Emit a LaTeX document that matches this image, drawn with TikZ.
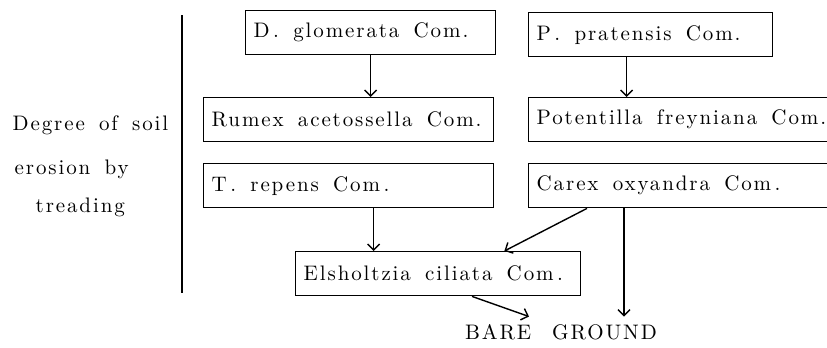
\documentclass[tikz,border=0pt]{standalone}
\usepackage{fontspec}
\setmainfont{lmroman10-regular.otf}[LetterSpace=9, WordSpace=1.6]
\usetikzlibrary{arrows.meta}

\begin{document}
\begin{tikzpicture}[
  x=0.5pt, y=-0.5pt,
  font=\fontsize{10.5}{12}\selectfont,
  line width=0.7pt,
  >={Straight Barb[length=3pt,width=6pt]},
  comm/.style={draw, rectangle, anchor=north west,
    inner xsep=4pt, inner ysep=0pt, minimum height=22pt,
    execute at begin node={\hbox to #1\bgroup},
    execute at end node={\hfil\egroup}},
  lbl/.style={anchor=base west, inner sep=0pt}
]
\useasboundingbox (0,0) rectangle (827,348);

% axis label on the left
\node[lbl] (deg1) at (12,130) {Degree of soil};
\node[lbl] (deg2) at (14,175) {erosion by};
\node[lbl] (deg3) at (35,213) {treading};
\draw (182,15) -- (182,293);

% communities
\node[comm=117pt] (dglo) at (245,10) {D\,. glomerata Com.};
\node[comm=114pt] (ppra) at (528,12) {P\,. pratensis Com.};
\node[comm=137pt] (rume) at (203,97) {Rumex acetossella Com.};
\node[comm=153pt] (pote) at (528,97) {Potentilla freyniana Com.};
\node[comm=137pt] (trep) at (203,163) {T\,. repens Com\,.};
\node[comm=153pt] (care) at (528,163) {Carex oxyandra Com\,.};
\node[comm=134.5pt] (elsh) at (295,251) {Elsholtzia ciliata Com\,.};
\node[inner sep=3.5pt] (ground) at (561,332) {BARE\quad GROUND};

\draw[->] (dglo.south) -- (dglo.south |- rume.north);
\draw[->] ([xshift=-12pt]ppra.south) -- ([xshift=-12pt]ppra.south |- pote.north);
\draw[->] ([xshift=12.5pt]trep.south) -- ([xshift=12.5pt]trep.south |- elsh.north);
\draw[->] ([xshift=29.5pt]care.south west) -- ([xshift=-38.5pt]elsh.north east);
\draw[->] ([xshift=48pt]care.south west) -- ([xshift=48pt]care.south west |- ground.north);
\draw[->] ([xshift=88.5pt]elsh.south west) -- ([xshift=-16pt]ground.north);
\end{tikzpicture}
\end{document}
